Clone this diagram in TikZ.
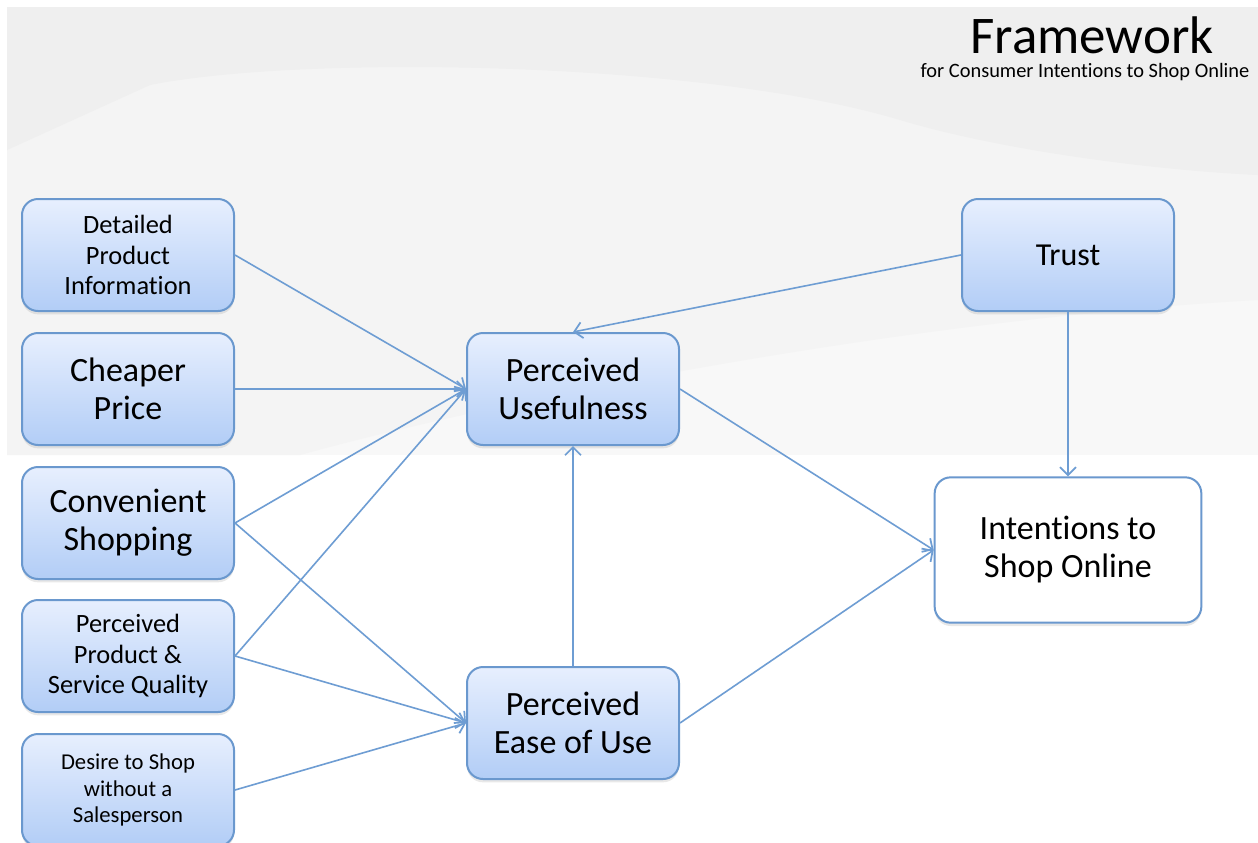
\documentclass[tikz,border=0pt]{standalone}
\usepackage{fontspec}
\setmainfont{Carlito}[Ligatures=CommonOff,Contextuals=AlternateOff]
\usetikzlibrary{arrows.meta,shadows}
\definecolor{linkblue}{HTML}{6E9DD3}
\definecolor{rimblue}{HTML}{6A98CE}
\definecolor{topblue}{HTML}{E7EFFE}
\definecolor{botblue}{HTML}{B2CDF6}
\definecolor{bgdark}{HTML}{EFEFEF}
\definecolor{bgmid}{HTML}{F4F4F4}
\definecolor{bglight}{HTML}{F8F8F8}

\begin{document}
\begin{tikzpicture}[x=0.75pt,y=-0.75pt,
  main node/.style={rectangle,rounded corners=12pt,draw=rimblue,line width=1.5pt,
    top color=topblue,bottom color=botblue,minimum width=159pt,minimum height=84pt,
    inner sep=0pt,align=center,text=black,
    drop shadow={opacity=0.18,shadow xshift=0pt,shadow yshift=-2.5pt}},
  small text/.style={font=\fontsize{19.8}{22.9}\selectfont},
  tiny text/.style={font=\fontsize{17}{19.9}\selectfont},
  big text/.style={font=\fontsize{25.5}{28.5}\selectfont}]
  \useasboundingbox (0,0) rectangle (1258,843);
  % background
  \fill[white] (0,0) rectangle (1258,843);
  \fill[bglight] (7,7) rectangle (1258,455);
  \fill[bgmid] (7,7) -- (1258,7) -- (1258,300) .. controls (900,320) and (500,400) .. (300,455) -- (7,455) -- cycle;
  \fill[bgdark] (7,7) -- (1258,7) -- (1258,175) .. controls (1150,170) and (1000,150) .. (900,120)
    .. controls (700,60) and (300,55) .. (150,85) -- (7,150) -- cycle;

  \node[font=\fontsize{39.7}{44}\selectfont,anchor=base,inner sep=0pt,text depth=0pt] (title) at (1092,53) {Framework};
  \node[font=\fontsize{15.3}{18}\selectfont,anchor=base,inner sep=0pt] (sub) at (1085,77) {for Consumer Intentions to Shop Online};

  \node[main node,small text] (1) at (128,255) {Detailed\\Product\\Information};
  \node[main node,big text] (2) at (128,389) {Cheaper\\Price};
  \node[main node,big text] (3) at (128,523) {Convenient\\Shopping};
  \node[main node,small text] (4) at (128,656) {Perceived\\Product \&\\Service Quality};
  \node[main node,tiny text] (5) at (128,790) {Desire to Shop\\without a\\Salesperson};
  \node[main node,big text] (6) at (573,389) {Perceived\\Usefulness};
  \node[main node,big text] (7) at (573,723) {Perceived\\Ease of Use};
  \node[main node,font=\fontsize{24}{28}\selectfont] (8) at (1068,255) {Trust};
  \node[main node,big text,top color=white,bottom color=white,minimum width=200pt,minimum height=109pt] (9) at (1068,550) {Intentions to\\Shop Online};

\path[->,>={Straight Barb[length=6pt,width=12pt,line width=1.3pt]},
  every edge/.append style={draw=linkblue,line width=1.2pt}]
  (1.east) edge (6.west)
  (2.east) edge (6.west)
  (3.east) edge (6.west)
  (4.east) edge (6.west)
  (3.east) edge (7.west)
  (4.east) edge (7.west)
  (5.east) edge (7.west)
  (7.north) edge (6.south)
  (8.west) edge (6.north)
  (8.south) edge (9.north)
  (6.east) edge (9.west)
  (7.east) edge (9.west)
;
\end{tikzpicture}
\end{document}
